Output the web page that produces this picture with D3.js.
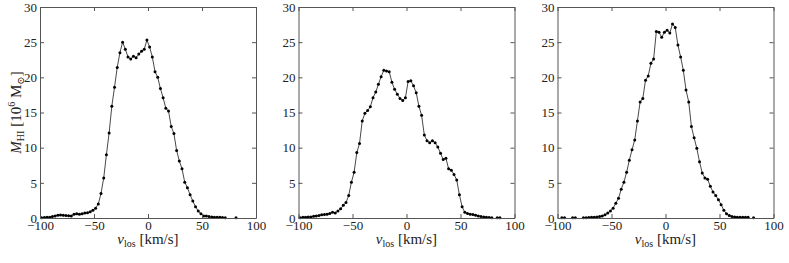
<!DOCTYPE html>
<html>
<head>
<meta charset="utf-8">
<script src="https://cdn.jsdelivr.net/npm/d3@7"></script>
<style>
  body { margin: 0; background: #fff; }
  svg text { font-family: 'Liberation Serif', 'DejaVu Serif', serif; }
</style>
</head>
<body>
<div id="chart"></div>
<script>
// Velocity channels (km/s), shared by the three panels
const velocity = [
  -98.5, -96, -93.5, -91, -88.5, -86, -83.5, -81, -78.5, -76,
  -73.5, -71, -68.5, -66, -63.5, -61, -58.5, -56, -53.5, -51,
  -48.5, -46, -43.5, -41, -38.5, -36, -33.5, -31, -28.5, -26,
  -23.5, -21, -18.5, -16, -13.5, -11, -8.5, -6, -3.5, -1,
  1.5, 4, 6.5, 9, 11.5, 14, 16.5, 19, 21.5, 24,
  26.5, 29, 31.5, 34, 36.5, 39, 41.5, 44, 46.5, 49,
  51.5, 54, 56.5, 59, 61.5, 64, 66.5, 69, 71.5, 74,
  76.5, 79, 81.5, 84, 86.5, 89
];

// HI mass per channel (10^6 Msun); null = empty channel
const massLeft = [
  0.05, 0.08, 0.1, 0.12, 0.2, 0.3, 0.4, 0.42, 0.38, 0.35,
  0.33, 0.3, 0.55, 0.6, 0.55, 0.6, 0.7, 0.75, 0.9, 1.1,
  1.4, 2.0, 3.5, 5.7, 9.0, 12.1, 15.9, 18.6, 21.4, 23.5,
  25.0, 24.0, 22.9, 22.6, 23.0, 22.8, 23.3, 23.7, 24.0, 25.3,
  24.3, 22.9, 20.8, 20.0, 18.4, 17.1, 15.6, 15.2, 13.0, 12.0,
  9.6, 8.1, 7.0, 5.1, 4.3, 3.3, 2.4, 1.6, 1.0, 0.6,
  0.3, 0.3, 0.2, 0.15, 0.1, 0.1, 0.1, 0.08, 0.05, null,
  null, null, 0.05, null, null, null
];

const massMiddle = [
  0.05, 0.1, 0.12, 0.15, 0.15, 0.25, 0.3, 0.35, 0.45, 0.5,
  0.55, 0.65, 0.8, 0.7, 1.0, 1.3, 1.8, 2.2, 3.2, 5.1,
  6.5, 9.3, 10.6, 13.8, 14.9, 15.3, 15.8, 17.1, 17.9, 19.0,
  20.1, 21.0, 20.9, 20.8, 19.3, 18.3, 17.6, 17.0, 16.7, 17.1,
  19.4, 19.5, 18.8, 17.8, 15.9, 14.6, 11.8, 11.0, 10.7, 11.0,
  10.7, 10.1, 9.2, 8.3, 8.5, 7.0, 6.8, 6.2, 5.4, 3.3,
  1.6, 0.8, 0.65, 0.55, 0.5, 0.4, 0.3, 0.2, 0.15, 0.1,
  0.08, 0.05, null, 0.05, 0.05, null
];

const massRight = [
  null, 0.05, 0.05, null, null, 0.05, 0.05, null, null, 0.05,
  0.05, 0.08, 0.1, 0.12, 0.15, 0.2, 0.3, 0.45, 0.7, 1.0,
  1.4, 2.1, 2.8, 4.1, 5.1, 6.5, 8.2, 9.7, 11.1, 13.8,
  16.5, 17.0, 19.6, 20.2, 22.0, 22.6, 26.5, 26.4, 25.7, 26.4,
  26.7, 26.3, 27.6, 27.1, 24.6, 22.9, 21.0, 18.2, 16.5, 13.0,
  11.4, 9.9, 8.0, 6.4, 5.7, 5.5, 4.5, 3.7, 3.2, 2.6,
  1.9, 1.1, 0.6, 0.35, 0.2, 0.15, 0.1, 0.1, 0.1, 0.1,
  0.1, null, 0.05, null, null, null
];

const xTicks = [-100, -50, 0, 50, 100];
const yTicks = [0, 5, 10, 15, 20, 25, 30];

document.addEventListener('DOMContentLoaded', function() {
    const W = 789, H = 263;
    const top = 7, bottom = 218, pw = 216;
    const panels = [
        { left: 40, mass: massLeft, ylabel: true },
        { left: 298.5, mass: massMiddle, ylabel: false },
        { left: 557.5, mass: massRight, ylabel: false }
    ];
    const serif = "'Liberation Serif', 'DejaVu Serif', serif";

    const svg = d3.select("#chart")
        .append("svg")
        .attr("width", W)
        .attr("height", H);

    const x = d3.scaleLinear().domain([-100, 100]).range([0, pw]);
    const y = d3.scaleLinear().domain([0, 30]).range([bottom - top, 0]);
    const ph = bottom - top;

    panels.forEach(p => {
        const g = svg.append("g")
            .attr("transform", `translate(${p.left},${top})`);

        const pts = velocity.map((v, i) => ({ v: v, m: p.mass[i] }));

        // the profile line, broken at empty channels
        g.append("path")
            .datum(pts)
            .attr("fill", "none")
            .attr("stroke", "#333")
            .attr("stroke-width", 0.9)
            .attr("d", d3.line()
                .defined(d => d.m !== null)
                .x(d => x(d.v))
                .y(d => y(d.m)));

        g.selectAll("circle")
            .data(pts.filter(d => d.m !== null))
            .join("circle")
            .attr("cx", d => x(d.v))
            .attr("cy", d => y(d.m))
            .attr("r", 1.5)
            .attr("fill", "#000");

        // axes: ticks point inward on all four sides
        const bottomAx = g.append("g")
            .attr("transform", `translate(0,${ph})`)
            .call(d3.axisBottom(x).tickValues(xTicks).tickSizeInner(-4).tickSizeOuter(0)
                .tickPadding(3).tickFormat(d3.format("")));
        const topAx = g.append("g")
            .call(d3.axisTop(x).tickValues(xTicks).tickSizeInner(-4).tickSizeOuter(0)
                .tickFormat(""));
        const leftAx = g.append("g")
            .call(d3.axisLeft(y).tickValues(yTicks).tickSizeInner(-4).tickSizeOuter(0)
                .tickPadding(3));
        const rightAx = g.append("g")
            .attr("transform", `translate(${pw},0)`)
            .call(d3.axisRight(y).tickValues(yTicks).tickSizeInner(-4).tickSizeOuter(0)
                .tickFormat(""));

        [bottomAx, topAx, leftAx, rightAx].forEach(a => {
            a.attr("font-family", null);
            a.select(".domain").attr("stroke", "#555").attr("stroke-width", 1);
            a.selectAll(".tick line").attr("stroke", "#555");
            a.selectAll("text")
                .style("font-family", serif)
                .attr("font-size", 13)
                .attr("fill", "#222");
        });

        // x label
        const xl = g.append("text")
            .attr("x", pw / 2)
            .attr("y", ph + 26)
            .attr("text-anchor", "middle")
            .style("font-family", serif)
            .attr("font-size", 15)
            .attr("fill", "#222");
        xl.append("tspan").attr("font-style", "italic").text("v");
        xl.append("tspan").attr("font-size", 10).attr("dy", 3).text("los");
        xl.append("tspan").attr("dy", -3).text(" [km/s]");

        if (p.ylabel) {
            const yl = g.append("text")
                .attr("transform", `translate(-19,${ph / 2}) rotate(-90)`)
                .attr("text-anchor", "middle")
                .style("font-family", serif)
                .attr("font-size", 15)
                .attr("fill", "#222");
            yl.append("tspan").attr("font-style", "italic").text("M");
            yl.append("tspan").attr("font-size", 10).attr("dy", 3).text("HI");
            yl.append("tspan").attr("dy", -3).text(" [10");
            yl.append("tspan").attr("font-size", 10).attr("dy", -6).text("6");
            yl.append("tspan").attr("dy", 6).text(" M");
            yl.append("tspan").attr("font-size", 10).attr("dy", 3).text("\u2299");
            yl.append("tspan").attr("dy", -3).text("]");
        }
    });
});
</script>
</body>
</html>
